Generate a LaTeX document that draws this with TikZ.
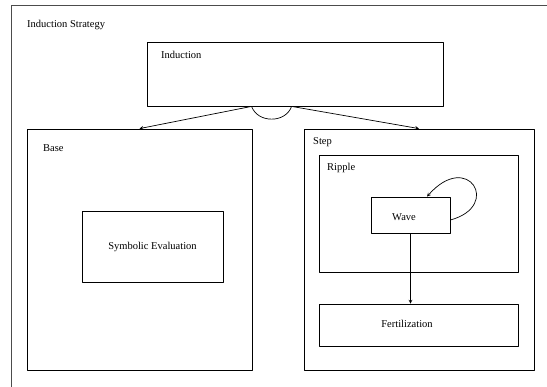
\documentclass[tikz,border=0pt]{standalone}
\usepackage{fontspec}
\setmainfont{Liberation Serif}
\usetikzlibrary{calc}
\tikzset{
  box/.style={draw,line width=0.8pt,inner sep=0pt},
  lbl/.style={anchor=west,inner sep=0pt},
}
\begin{document}
\begin{tikzpicture}[>=stealth,line join=round,x=1pt,y=-1pt,font=\fontsize{10.5}{12}\selectfont]
	\useasboundingbox (0,0) rectangle (547,387);
	\clip (0,0) rectangle (547,387);
	% vung ngoai
	\node[box,draw=black!70,minimum width=560pt,minimum height=410pt] (strategy) at (291,210) {};
	\node[lbl] (strategyl) at (27,25) {Induction Strategy};
	% cac hop
	\node[box,minimum width=296pt,minimum height=64pt] (ind) at (295,74) {};
	\node[lbl] (indl) at (161,55) {Induction};
	\node[box,minimum width=225pt,minimum height=241pt] (base) at (139.5,249.5) {};
	\node[lbl] (basel) at (43,148) {Base};
	\node[box,minimum width=141pt,minimum height=71pt] (symb) at (152.5,246.5) {Symbolic Evaluation};
	\node[box,minimum width=230pt,minimum height=241pt] (step) at (419,249.5) {};
	\node[lbl] (stepl) at (313,142) {Step};
	\node[box,minimum width=199pt,minimum height=117pt] (ripple) at (418.5,213.5) {};
	\node[lbl] (ripplel) at (327,168) {Ripple};
	\node[box,minimum width=79pt,minimum height=36pt] (wave) at (410.5,215) {};
	\node (wavel) at (404,217) {Wave};
	\node[box,minimum width=199pt,minimum height=42pt] (fert) at (418.5,325) {};
	\node (fertl) at (407,324) {Fertilization};
	% mui ten
	\coordinate (a1) at ($(ind.south west)+(105,0)$);
	\coordinate (a2) at ($(ind.south west)+(145,0)$);
	\draw[->,line width=0.7pt] (a1)--(base.north);
	\draw[->,line width=0.7pt] (a2)--(step.north);
	\draw[line width=0.7pt] (a1) .. controls ($(a1)+(6,17)$) and ($(a2)+(-6,17)$) .. (a2);
	\draw[->,line width=0.7pt] (wave.south)--(wave.south |- fert.north);
	\draw[->,line width=0.7pt] ($(wave.east)+(0,5)$) .. controls (502,206) and (468,150) .. ($(wave.north)+(16.5,0)$);
\end{tikzpicture}
\end{document}
